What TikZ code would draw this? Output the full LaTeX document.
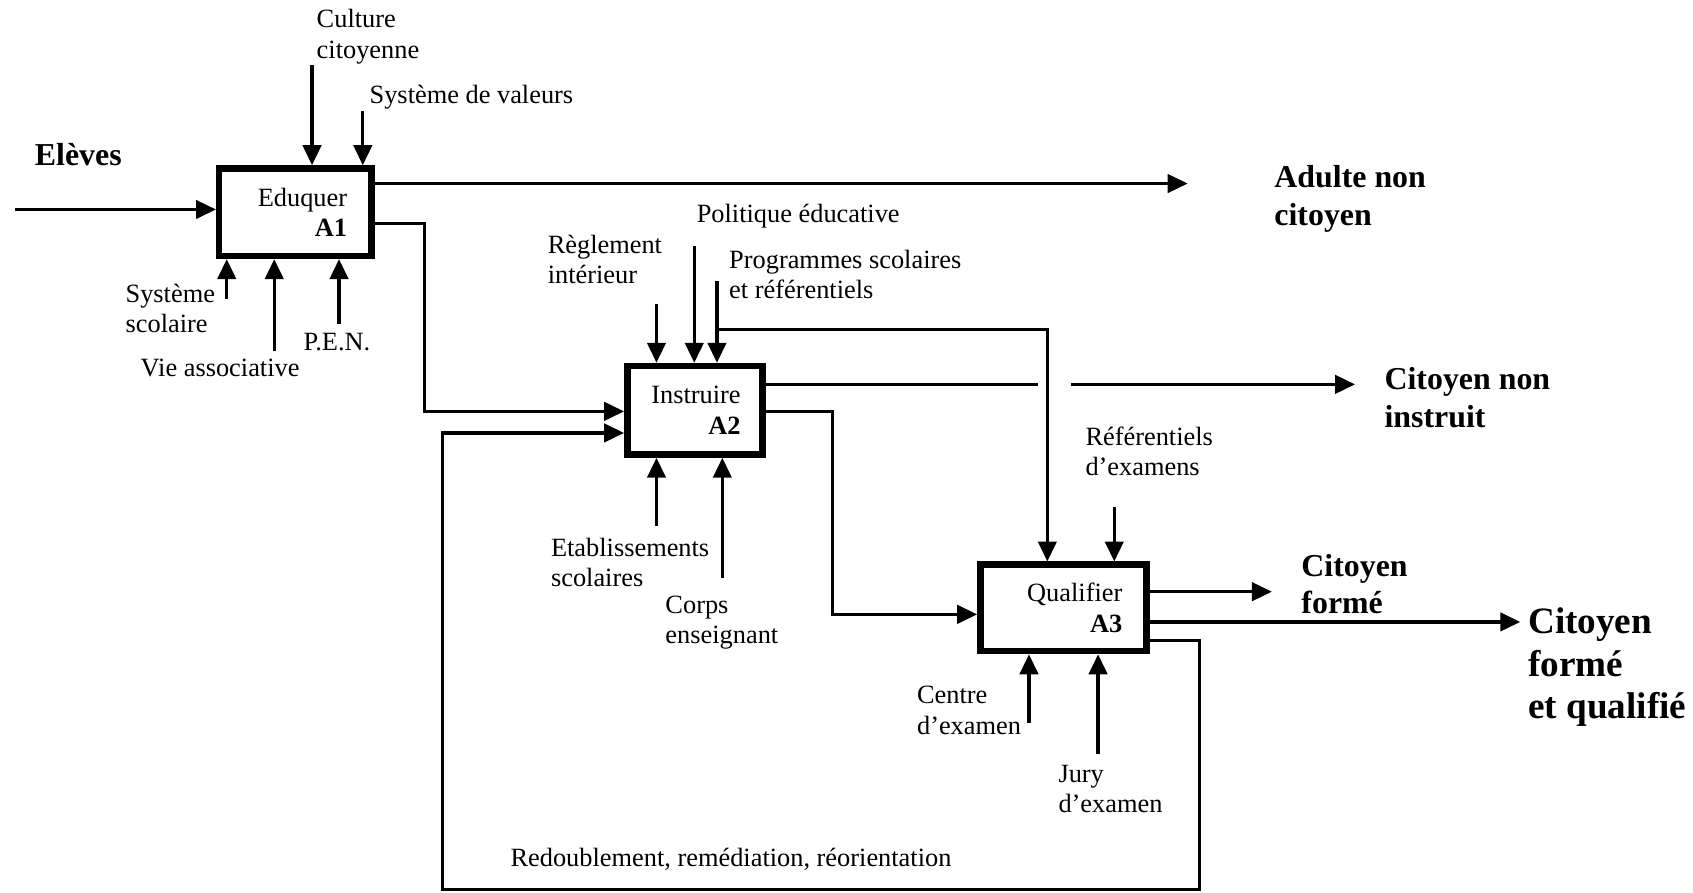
\documentclass[tikz,border=0pt]{standalone}
\usepackage{fontspec}
\setmainfont{Liberation Serif}
\usetikzlibrary{arrows.meta}
\newcommand\fsN{\fontsize{13.9pt}{15.9pt}\selectfont}
\newcommand\fsB{\fontsize{16.8pt}{19.9pt}\selectfont}
\newcommand\fsH{\fontsize{19.6pt}{22.5pt}\selectfont}
\tikzset{
  box/.style={draw, rectangle, line width=3.4pt, inner xsep=0.45cm, inner ysep=0pt, align=right, font=\fsN},
  lab/.style={inner sep=0pt, align=left, font=\fsN},
  bigl/.style={inner sep=0pt, align=left, font=\bfseries\fsB},
  hugel/.style={inner sep=0pt, align=left, font=\bfseries\fsH},
  ln/.style={line width=1.7pt},
  arr/.style={line width=1.7pt, -{Triangle[length=0.37cm,width=0.34cm]}},
}
\begin{document}
\begin{tikzpicture}[x=0.02cm, y=-0.02cm]
\useasboundingbox (0,0) rectangle (1568,827);

% boxes
\node[box, text width=1.92cm, minimum height=1.62cm] (A1) at (273.5,196.5) {Eduquer\\\textbf{A1}};
\node[box, inner xsep=0.4cm, text width=1.70cm, minimum height=1.64cm] (A2) at (643.5,380) {Instruire\\\textbf{A2}};
\node[box, text width=2.18cm, minimum height=1.60cm] (A3) at (985,563) {Qualifier\\\textbf{A3}};

% ---- A1 ----
\node[bigl, anchor=west] (eleves) at (32,143) {Elèves};
\coordinate (inA1) at (14,194);
\draw[arr] (inA1) -- (inA1 -| A1.west);

\node[lab, anchor=west] (cult) at (293,34) {Culture\\citoyenne};
\coordinate (c1) at (289,60);
\draw[arr] (c1) -- (c1 |- A1.north);
\node[lab, anchor=west] (sval) at (342,90) {Système de valeurs};
\coordinate (c2) at (336,103);
\draw[arr] (c2) -- (c2 |- A1.north);

\node[lab, anchor=west] (ssco) at (116,286) {Système\\scolaire};
\coordinate (m1) at (210,277);
\draw[arr] (m1) -- (m1 |- A1.south);
\node[lab, anchor=west] (vass) at (130,341) {Vie associative};
\coordinate (m2) at (254,325);
\draw[arr] (m2) -- (m2 |- A1.south);
\node[lab] (pen) at (312,317) {P.E.N.};
\coordinate (m3) at (314,300);
\draw[arr] (m3) -- (m3 |- A1.south);

\coordinate (o1) at (1100,170);
\draw[arr] (A1.east |- o1) -- (o1);
\node[bigl, anchor=west] (anc) at (1180,184) {Adulte non\\citoyen};

\coordinate (j1) at (393,207);
\coordinate (j1b) at (393,381);
\draw[arr] (A1.east |- j1) -- (j1) -- (j1b) -- (A2.west |- j1b);

% ---- A2 ----
\node[lab, anchor=west] (regl) at (507,240) {Règlement\\intérieur};
\coordinate (r1) at (608,282);
\draw[arr] (r1) -- (r1 |- A2.north);
\node[lab, anchor=west] (poli) at (645,200) {Politique éducative};
\coordinate (r2) at (643,228);
\draw[arr] (r2) -- (r2 |- A2.north);
\node[lab, anchor=west] (prog) at (675,254) {Programmes scolaires\\et référentiels};
\coordinate (r3) at (664,260);
\draw[arr] (r3) -- (r3 |- A2.north);
\coordinate (br) at (664,305);
\coordinate (br2) at (970,305);
\draw[arr] (br) -- (br2) -- (br2 |- A3.north);

\node[lab, anchor=west] (etab) at (510,521) {Etablissements\\scolaires};
\coordinate (e1) at (608,487);
\draw[arr] (e1) -- (e1 |- A2.south);
\node[lab, anchor=west] (corps) at (616,577) {Corps\\enseignant};
\coordinate (e2) at (669,535);
\draw[arr] (e2) -- (e2 |- A2.south);

\coordinate (gapL) at (961,356);
\coordinate (gapR) at (992,356);
\coordinate (o3) at (1255,356);
\draw[ln] (A2.east |- gapL) -- (gapL);
\draw[arr] (gapR) -- (o3);
\node[bigl, anchor=west] (cni) at (1282,368) {Citoyen non\\instruit};

\coordinate (j2) at (771,381);
\coordinate (j2b) at (771,569);
\draw[arr] (A2.east |- j2) -- (j2) -- (j2b) -- (A3.west |- j2b);

% ---- A3 ----
\node[lab, anchor=west] (refx) at (1005,418) {Référentiels\\d’examens};
\coordinate (q2) at (1032,470);
\draw[arr] (q2) -- (q2 |- A3.north);

\node[lab, anchor=west] (cent) at (849,658) {Centre\\d’examen};
\coordinate (k1) at (953,670);
\draw[arr] (k1) -- (k1 |- A3.south);
\node[lab, anchor=west] (jury) at (980,731) {Jury\\d’examen};
\coordinate (k2) at (1017,698);
\draw[arr] (k2) -- (k2 |- A3.south);

\coordinate (cf) at (1178,548);
\draw[arr] (A3.east |- cf) -- (cf);
\node[bigl, anchor=west] (cform) at (1205,541) {Citoyen\\formé};
\coordinate (cfq) at (1408,576);
\draw[arr] (A3.east |- cfq) -- (cfq);
\node[hugel, anchor=west] (cfql) at (1415,618) {Citoyen\\formé\\et qualifié};

% feedback
\coordinate (fb0) at (1111,593);
\coordinate (fbR) at (1111,824);
\coordinate (fbL) at (410,824);
\coordinate (fbU) at (410,401);
\draw[arr] (A3.east |- fb0) -- (fb0) -- (fbR) -- (fbL) -- (fbU) -- (A2.west |- fbU);
\node[lab] (redo) at (677,796) {Redoublement, remédiation, réorientation};
\end{tikzpicture}
\end{document}
